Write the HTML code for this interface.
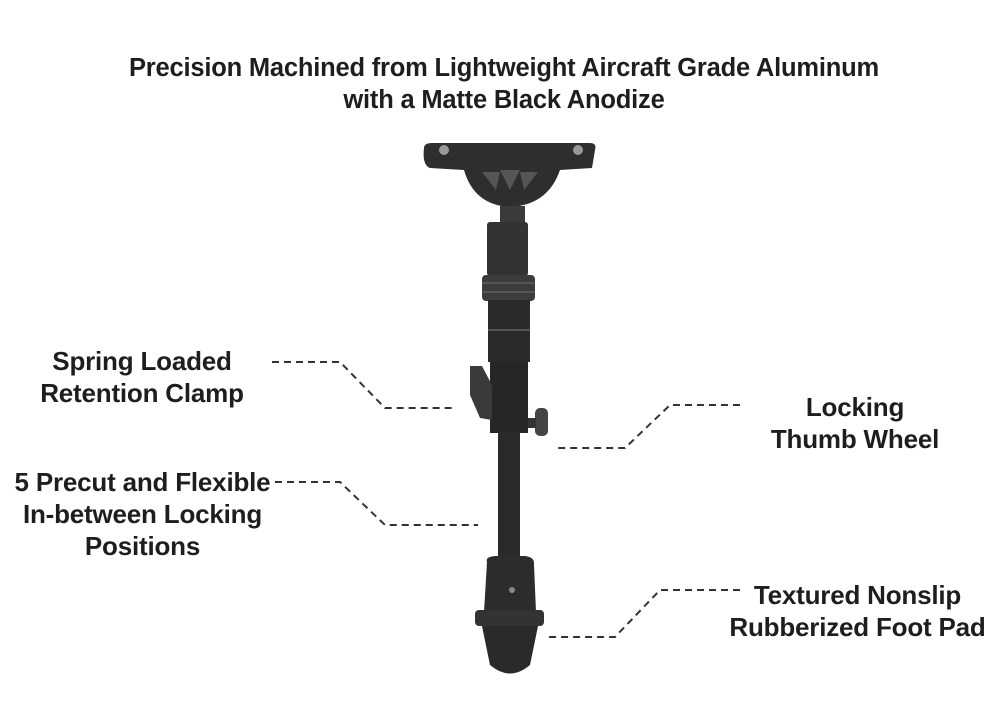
<!DOCTYPE html>
<html><head><style>
body{margin:0;width:1000px;height:714px;background:#fff;overflow:hidden;position:relative;font-family:"Liberation Sans",sans-serif;font-weight:bold;color:#1e1e1e}
.t{position:absolute;text-align:center;font-size:26px;line-height:32px;white-space:nowrap;letter-spacing:-0.2px}
</style></head><body>
<div class="t" style="left:0;width:1008px;top:52px;font-size:25.5px">Precision Machined from Lightweight Aircraft Grade Aluminum<br>with a Matte Black Anodize</div>
<div class="t" style="left:22px;width:240px;top:345px">Spring Loaded<br>Retention Clamp</div>
<div class="t" style="left:740px;width:230px;top:391px">Locking<br>Thumb Wheel</div>
<div class="t" style="left:0;width:285px;top:466px">5 Precut and Flexible<br>In-between Locking<br>Positions</div>
<div class="t" style="left:715px;width:285px;top:579px">Textured Nonslip<br>Rubberized Foot Pad</div>
<svg width="1000" height="714" style="position:absolute;left:0;top:0">
<g fill="none" stroke="#333" stroke-width="2" stroke-dasharray="7,5">
<polyline points="272,362 340,362 385,408 455,408"/>
<polyline points="740,405 670,405 625,448 557,448"/>
<polyline points="275,482 340,482 385,525 478,525"/>
<polyline points="740,590 660,590 615,637 548,637"/>
</g>
<g fill="#2e2e2e">
<path d="M424,148 Q424,143 432,143 L590,143 Q597,143 595,150 L592,168 L560,170 Q548,205 510,207 Q474,205 464,170 L430,168 Q422,165 424,148Z"/>
<rect x="500" y="206" width="25" height="18" fill="#3a3a3a"/>
<rect x="487" y="222" width="41" height="54" rx="3" fill="#333"/>
<rect x="482" y="275" width="53" height="26" rx="4" fill="#3c3c3c"/>
<rect x="488" y="300" width="42" height="62" fill="#2a2a2a"/>
<rect x="490" y="362" width="38" height="71" fill="#262626"/>
<path d="M470,366 L482,366 L492,385 L492,420 L480,418 L470,395Z" fill="#3a3a3a"/>
<rect x="535" y="408" width="13" height="28" rx="5" fill="#444"/>
<rect x="528" y="418" width="8" height="10" fill="#333"/>
<rect x="498" y="432" width="22" height="130" fill="#2a2a2a"/>
<path d="M487,562 Q485,557 495,556 L525,556 Q535,557 534,565 L536,612 L484,612Z" fill="#2c2c2c"/>
<rect x="475" y="610" width="69" height="16" rx="4" fill="#333"/>
<path d="M482,626 L538,626 L530,665 Q510,682 490,665Z" fill="#2a2a2a"/>
</g>
<g fill="#999"><circle cx="444" cy="150" r="5"/><circle cx="578" cy="150" r="5"/></g>
<g fill="#555"><path d="M500,170 L520,170 L510,190Z"/><path d="M482,172 L500,172 L496,190Z"/><path d="M520,172 L538,172 L524,190Z"/></g>
<g stroke="#555" stroke-width="2"><line x1="482" y1="283" x2="535" y2="283"/><line x1="482" y1="292" x2="535" y2="292"/><line x1="488" y1="330" x2="530" y2="330"/></g>
<circle cx="512" cy="590" r="3" fill="#888"/>
</svg>
</body></html>
